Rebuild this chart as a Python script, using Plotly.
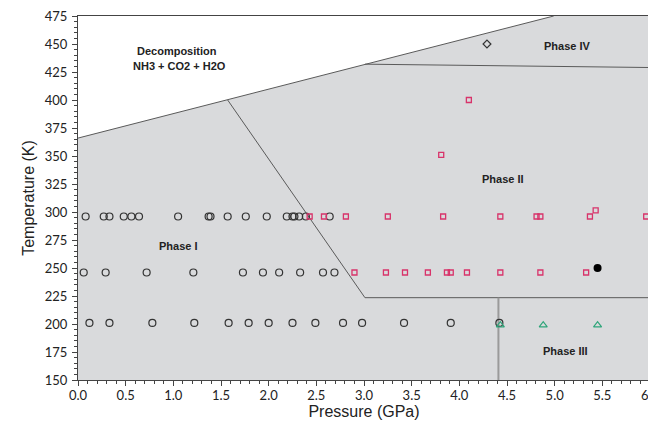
import plotly.graph_objects as go

# ---- data ----
p1_P = [0.08, 0.27, 0.33, 0.48, 0.56, 0.64, 1.05, 1.37, 1.39, 1.57, 1.76, 1.98, 2.19, 2.25, 2.27, 2.32, 2.39, 2.64,
        0.06, 0.29, 0.72, 1.21, 1.73, 1.94, 2.11, 2.33, 2.57, 2.69,
        0.12, 0.33, 0.78, 1.22, 1.58, 1.79, 2.00, 2.25, 2.49, 2.78, 2.98, 3.42, 3.91, 4.42]
p1_T = [296] * 18 + [246] * 10 + [201] * 14

p2_P = [2.43, 2.58, 2.81, 3.25, 3.83, 4.43, 4.81, 4.85, 5.37, 5.43, 5.96,
        2.90, 3.23, 3.43, 3.67, 3.87, 3.91, 4.08, 4.43, 4.85, 5.33,
        3.81, 4.10]
p2_T = [296] * 9 + [301.5, 296] + [246] * 10 + [351, 400]

p3_P = [4.43, 4.88, 5.45]
p3_T = [199, 199, 199]

p4_P = [4.29]
p4_T = [450]

ref_P = [5.45]
ref_T = [250]

# phase boundaries
decomp_P = [0, 4.99]
decomp_T = [366, 475]
b14_P = [3.01, 6.0]
b14_T = [432, 429]
b12_P = [1.57, 3.01, 6.0]
b12_T = [400, 223.5, 223.5]
b23_P = [4.41, 4.41]
b23_T = [150, 223.5]

labels = ["Decomposition", "NH3 + CO2 + H2O", "Phase IV", "Phase II", "Phase I", "Phase III"]
label_P = [1.04, 1.06, 5.13, 4.46, 1.05, 5.11]
label_T = [444, 430.5, 448.5, 329.5, 270, 175.5]

x_ticks = [0.0, 0.5, 1.0, 1.5, 2.0, 2.5, 3.0, 3.5, 4.0, 4.5, 5.0, 5.5, 6.0]
y_ticks = list(range(150, 476, 25))

fig = go.Figure()

# grey region below decomposition line
fill_P = [0, decomp_P[0], decomp_P[1], 6.0, 6.0, 0]
fill_T = [150, decomp_T[0], decomp_T[1], 475, 150, 150]
fig.add_trace(go.Scatter(x=fill_P, y=fill_T, mode="lines", fill="toself",
                         fillcolor="#d9dadc", line=dict(width=0), hoverinfo="skip", showlegend=False))

line_style = dict(color="#5a5a5a", width=1)
fig.add_trace(go.Scatter(x=decomp_P, y=decomp_T, mode="lines", line=line_style, showlegend=False))
fig.add_trace(go.Scatter(x=b14_P, y=b14_T, mode="lines", line=line_style, showlegend=False))
fig.add_trace(go.Scatter(x=b12_P, y=b12_T, mode="lines", line=line_style, showlegend=False))
fig.add_trace(go.Scatter(x=b23_P, y=b23_T, mode="lines", line=dict(color="#9a9a9a", width=2), showlegend=False))

fig.add_trace(go.Scatter(x=p1_P, y=p1_T, mode="markers", showlegend=False,
                         marker=dict(symbol="circle-open", size=7, color="#333333", line=dict(width=1.2))))
fig.add_trace(go.Scatter(x=p2_P, y=p2_T, mode="markers", showlegend=False,
                         marker=dict(symbol="square-open", size=5, color="#d8336a", line=dict(width=1.3))))
fig.add_trace(go.Scatter(x=p3_P, y=p3_T, mode="markers", showlegend=False,
                         marker=dict(symbol="triangle-up-open", size=7, color="#2ea57a", line=dict(width=1.2))))
fig.add_trace(go.Scatter(x=p4_P, y=p4_T, mode="markers", showlegend=False,
                         marker=dict(symbol="diamond-open", size=6, color="#333333", line=dict(width=1.2))))
fig.add_trace(go.Scatter(x=ref_P, y=ref_T, mode="markers", showlegend=False,
                         marker=dict(symbol="circle", size=8, color="#000000")))

for t, px, ty in zip(labels, label_P, label_T):
    fig.add_annotation(x=px, y=ty, text="<b>%s</b>" % t, showarrow=False,
                       font=dict(family="Liberation Sans, Arial", size=11, color="#222222"))

axis_common = dict(showgrid=False, zeroline=False, showline=True, linecolor="#444444", linewidth=1,
                   mirror=True, ticks="outside", tickcolor="#444444", ticklen=5,
                   ticklabeloverflow="allow",
                   tickfont=dict(family="Lato, Open Sans", size=13, color="#222222"))

# the page body has an 8px margin, so the figure is sized/offset to fill the 656x425 window
fig.update_layout(
    width=648, height=417,
    margin=dict(l=70, r=6, t=8, b=45, autoexpand=False),
    paper_bgcolor="white", plot_bgcolor="white",
    xaxis=dict(range=[0, 6], tickvals=x_ticks, ticktext=["%.1f" % v for v in x_ticks],
               minor=dict(dtick=0.1, ticks="outside", ticklen=3, tickcolor="#444444"),
               ticklabelstandoff=-2,
               title=dict(text="Pressure (GPa)", font=dict(family="Liberation Sans, Arial", size=16, color="#222222"),
                          standoff=1),
               **axis_common),
    yaxis=dict(range=[150, 475], tickvals=y_ticks,
               minor=dict(dtick=5, ticks="outside", ticklen=3, tickcolor="#444444"),
               ticklabelstandoff=2,
               title=dict(text="Temperature (K)", font=dict(family="Liberation Sans, Arial", size=16, color="#222222"),
                          standoff=6),
               **axis_common),
)

fig.write_html("out.html")
